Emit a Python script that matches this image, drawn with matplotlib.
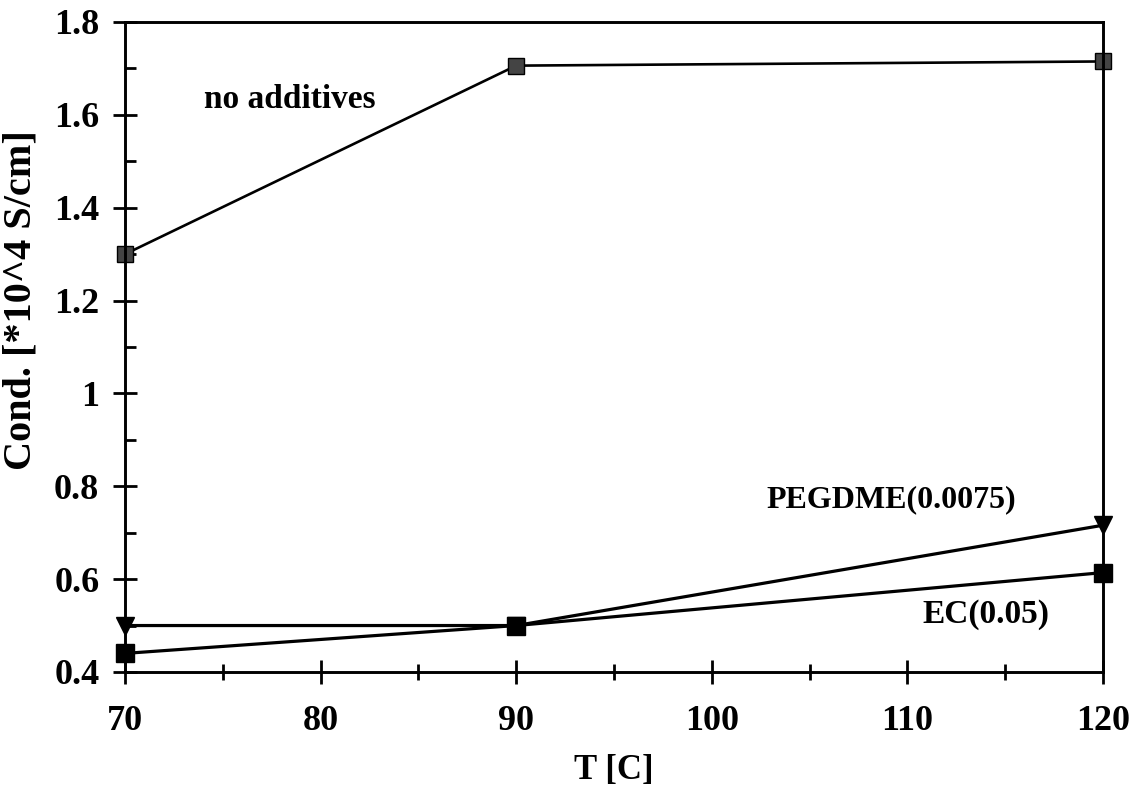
import matplotlib.pyplot as plt
from matplotlib.ticker import MultipleLocator

plt.rcParams['font.family'] = ['Liberation Serif', 'DejaVu Serif']
plt.rcParams['font.weight'] = 'bold'

# data
temp = [70, 90, 120]
no_add = [1.30, 1.706, 1.715]
pegdme = [0.50, 0.50, 0.716]
ec = [0.44, 0.50, 0.614]
yticks = [0.4, 0.6, 0.8, 1.0, 1.2, 1.4, 1.6, 1.8]
ytick_labels = ['0.4', '0.6', '0.8', '1', '1.2', '1.4', '1.6', '1.8']

fig = plt.figure(figsize=(11.41, 7.94), dpi=100)
ax = fig.add_axes([0.1096, 0.1537, 0.857, 0.8186])

ax.plot(temp, no_add, color='black', lw=1.9, marker='s', markersize=12,
        markerfacecolor='#444444', markeredgecolor='black', clip_on=False)
ax.plot(temp, pegdme, color='black', lw=2.3, marker='v', markersize=13, clip_on=False)
ax.plot(temp, ec, color='black', lw=2.3, marker='s', markersize=13, clip_on=False)

# series labels
ax.text(78.4, 1.633, 'no additives', fontsize=24, fontweight='bold', ha='center', va='center')
ax.text(109.2, 0.772, 'PEGDME(0.0075)', fontsize=23, fontweight='bold', ha='center', va='center')
ax.text(114.0, 0.524, 'EC(0.05)', fontsize=24, fontweight='bold', ha='center', va='center')

ax.set_xlim(70, 120)
ax.set_ylim(0.4, 1.8)
ax.xaxis.set_major_locator(MultipleLocator(10))
ax.xaxis.set_minor_locator(MultipleLocator(5))
ax.yaxis.set_minor_locator(MultipleLocator(0.1))
ax.set_yticks(yticks)
ax.set_yticklabels(ytick_labels)

ax.tick_params(axis='x', which='major', direction='inout', length=17, width=2, pad=15, labelsize=26)
ax.tick_params(axis='x', which='minor', direction='inout', length=12, width=2)
ax.tick_params(axis='y', which='major', direction='inout', length=17, width=2, pad=10, labelsize=26)
ax.tick_params(axis='y', which='minor', direction='in', length=8, width=2)

for s in ax.spines.values():
    s.set_linewidth(2.1)

ax.set_xlabel('T [C]', fontsize=25, fontweight='bold', labelpad=12)
ax.set_ylabel('Cond. [*10^4 S/cm]', fontsize=29, fontweight='bold')
ax.yaxis.set_label_coords(-0.087, 0.572)

fig.savefig('out.png', dpi=100)
